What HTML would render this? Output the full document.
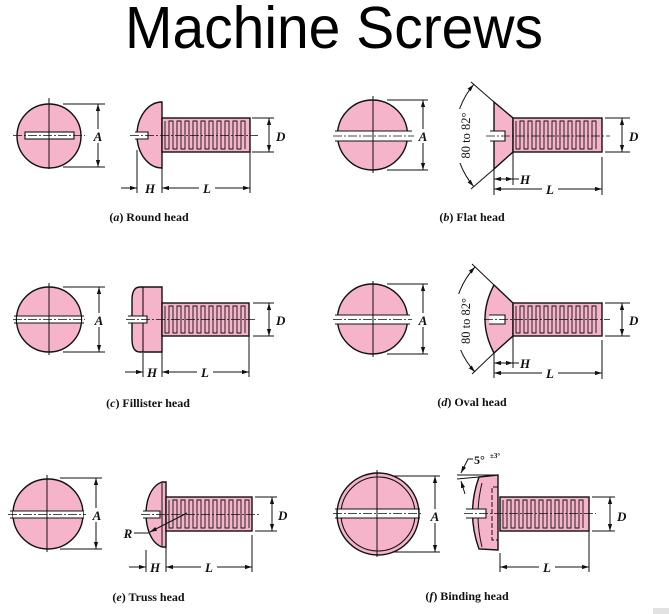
<!DOCTYPE html>
<html><head><meta charset="utf-8"><style>
html,body{margin:0;padding:0;background:#fff;}
svg{display:block;}
.o{stroke:#111;stroke-width:1.4;}
.p{fill:#f6b4ca;}
.l{stroke:#111;stroke-width:1;fill:none;}
.m{stroke:#111;stroke-width:0.9;fill:none;}
.c{stroke:#111;stroke-width:0.8;fill:none;stroke-dasharray:9,2,2,2;}
.lb{font-family:"Liberation Serif",serif;font-weight:bold;font-style:italic;font-size:13px;fill:#111;}
.cap{font-family:"Liberation Serif",serif;font-weight:bold;font-size:12px;fill:#111;}
.ang{font-family:"Liberation Serif",serif;font-size:12.5px;fill:#111;}
</style></head><body>
<svg width="669" height="614" viewBox="0 0 669 614" xmlns="http://www.w3.org/2000/svg">
<defs>
<marker id="ar" viewBox="0 0 7 5" refX="7" refY="2.5" markerWidth="7" markerHeight="5" orient="auto-start-reverse" markerUnits="userSpaceOnUse"><path d="M0,0.4 L7,2.5 L0,4.6 z" fill="#111"/></marker>
</defs>
<rect width="669" height="614" fill="#fff"/>
<text x="125" y="48" font-family="Liberation Sans, sans-serif" font-size="59" fill="#000" textLength="418" lengthAdjust="spacingAndGlyphs">Machine Screws</text>

<!-- ===== (a) Round head ===== -->
<circle cx="49" cy="136" r="32" class="p o"/>
<rect x="25" y="132" width="49" height="7" fill="#fff" class="o" style="stroke-width:1.1"/>
<line x1="13" y1="135.5" x2="85" y2="135.5" class="c"/>
<line x1="49" y1="98" x2="49" y2="169" class="l"/>
<line x1="63" y1="104" x2="105" y2="104" class="l"/>
<line x1="63" y1="167" x2="105" y2="167" class="l"/>
<line x1="98" y1="104" x2="98" y2="167" class="l" marker-start="url(#ar)" marker-end="url(#ar)"/>
<rect x="92" y="129" width="12" height="14" fill="#fff"/>
<text x="98" y="141" text-anchor="middle" class="lb">A</text>
<path d="M162,102 A25,33 0 0 0 162,168 Z" class="p o"/>
<path d="M135,132 H148 V139 H135" fill="#fff" class="o" style="stroke-width:1.1"/>
<rect x="162" y="118" width="88" height="34" class="p o"/>
<path d="M165,121 v28h4v-28h4 v28h4v-28h4 v28h4v-28h4 v28h4v-28h4 v28h4v-28h4 v28h4v-28h4 v28h4v-28h4 v28h4v-28h4 v28h4v-28h4 v28h4v-28h4 v28" class="m"/>
<line x1="130" y1="135.5" x2="258" y2="135.5" class="c"/>
<line x1="252" y1="118" x2="274" y2="118" class="l"/>
<line x1="252" y1="152" x2="274" y2="152" class="l"/>
<line x1="269" y1="118" x2="269" y2="152" class="l" marker-start="url(#ar)" marker-end="url(#ar)"/>
<text x="276" y="141" class="lb">D</text>
<line x1="137" y1="150" x2="137" y2="193" class="l"/>
<line x1="162" y1="168" x2="162" y2="193" class="l"/>
<line x1="250" y1="152" x2="250" y2="193" class="l"/>
<line x1="121" y1="188" x2="137" y2="188" class="l" marker-end="url(#ar)"/>
<text x="150" y="193" text-anchor="middle" class="lb">H</text>
<line x1="162" y1="188" x2="250" y2="188" class="l" marker-start="url(#ar)" marker-end="url(#ar)"/>
<rect x="199" y="181" width="16" height="14" fill="#fff"/>
<text x="207" y="193" text-anchor="middle" class="lb">L</text>
<text x="149" y="221" text-anchor="middle" class="cap">(<tspan font-style="italic">a</tspan>) Round head</text>

<!-- ===== (b) Flat head ===== -->
<circle cx="372.5" cy="135" r="35" class="p o"/>
<rect x="336" y="131" width="73" height="10" fill="#fff"/>
<line x1="335" y1="131" x2="412" y2="131" class="o" style="stroke-width:1.1"/>
<line x1="335" y1="141" x2="412" y2="141" class="o" style="stroke-width:1.1"/>
<line x1="333" y1="136" x2="414" y2="136" class="c"/>
<line x1="373" y1="96" x2="373" y2="173" class="l"/>
<line x1="387" y1="100" x2="428" y2="100" class="l"/>
<line x1="387" y1="170" x2="428" y2="170" class="l"/>
<line x1="423" y1="100" x2="423" y2="170" class="l" marker-start="url(#ar)" marker-end="url(#ar)"/>
<rect x="417" y="129" width="12" height="14" fill="#fff"/>
<text x="423" y="141" text-anchor="middle" class="lb">A</text>
<polygon points="494,102 513,118 513,152 494,169" class="p o"/>
<path d="M490,131 H505 V141 H490" fill="#fff" class="o" style="stroke-width:1.1"/>
<rect x="513" y="118" width="89" height="34" class="p o"/>
<path d="M516,121 v28h4v-28h4 v28h4v-28h4 v28h4v-28h4 v28h4v-28h4 v28h4v-28h4 v28h4v-28h4 v28h4v-28h4 v28h4v-28h4 v28h4v-28h4 v28h4v-28h4 v28" class="m"/>
<line x1="486" y1="136" x2="610" y2="136" class="c"/>
<line x1="605" y1="118" x2="630" y2="118" class="l"/>
<line x1="605" y1="152" x2="630" y2="152" class="l"/>
<line x1="622" y1="118" x2="622" y2="152" class="l" marker-start="url(#ar)" marker-end="url(#ar)"/>
<text x="629" y="141" class="lb">D</text>
<line x1="494" y1="102" x2="471" y2="82" class="l"/>
<line x1="494" y1="169" x2="471" y2="189" class="l"/>
<path d="M473.6,84.6 A79,79 0 0 0 473.6,186.4" class="l" marker-start="url(#ar)" marker-end="url(#ar)"/>
<rect x="451" y="109" width="22" height="54" fill="#fff"/>
<text transform="translate(470,135.5) rotate(-90)" text-anchor="middle" class="ang">80 to 82°</text>
<line x1="494" y1="169" x2="494" y2="195" class="l"/>
<line x1="513" y1="152" x2="513" y2="185" class="l"/>
<line x1="602" y1="157" x2="602" y2="195" class="l"/>
<line x1="494" y1="179" x2="513" y2="179" class="l" marker-start="url(#ar)" marker-end="url(#ar)"/>
<line x1="513" y1="179" x2="519" y2="179" class="l"/>
<text x="520" y="184" class="lb">H</text>
<line x1="494" y1="189" x2="602" y2="189" class="l" marker-start="url(#ar)" marker-end="url(#ar)"/>
<rect x="542" y="182" width="16" height="14" fill="#fff"/>
<text x="550" y="194" text-anchor="middle" class="lb">L</text>
<text x="472" y="221" text-anchor="middle" class="cap">(<tspan font-style="italic">b</tspan>) Flat head</text>

<!-- ===== (c) Fillister head ===== -->
<circle cx="49" cy="319.5" r="32.5" class="p o"/>
<rect x="17" y="316" width="64" height="7" fill="#fff"/>
<line x1="14" y1="316" x2="84" y2="316" class="o" style="stroke-width:1.1"/>
<line x1="14" y1="323" x2="84" y2="323" class="o" style="stroke-width:1.1"/>
<line x1="13" y1="319.5" x2="85" y2="319.5" class="c"/>
<line x1="49" y1="283" x2="49" y2="355" class="l"/>
<line x1="63" y1="287" x2="105" y2="287" class="l"/>
<line x1="63" y1="352" x2="105" y2="352" class="l"/>
<line x1="99" y1="287" x2="99" y2="352" class="l" marker-start="url(#ar)" marker-end="url(#ar)"/>
<rect x="93" y="313" width="12" height="14" fill="#fff"/>
<text x="99" y="325" text-anchor="middle" class="lb">A</text>
<path d="M162,287 H140 Q132,287 132,300 V339 Q132,352 140,352 H162 Z" class="p o"/>
<line x1="143" y1="287" x2="143" y2="352" class="o" style="stroke-width:1.1"/>
<path d="M128,316 H147 V323 H128" fill="#fff" class="o" style="stroke-width:1.1"/>
<rect x="162" y="303" width="87" height="33" class="p o"/>
<path d="M165,306 v27h4v-27h4 v27h4v-27h4 v27h4v-27h4 v27h4v-27h4 v27h4v-27h4 v27h4v-27h4 v27h4v-27h4 v27h4v-27h4 v27h4v-27h4 v27h4v-27h4 v27" class="m"/>
<line x1="126" y1="319.5" x2="257" y2="319.5" class="c"/>
<line x1="253" y1="303" x2="274" y2="303" class="l"/>
<line x1="253" y1="336" x2="274" y2="336" class="l"/>
<line x1="269" y1="303" x2="269" y2="336" class="l" marker-start="url(#ar)" marker-end="url(#ar)"/>
<text x="276" y="325" class="lb">D</text>
<line x1="143" y1="353" x2="143" y2="377" class="l"/>
<line x1="162" y1="352" x2="162" y2="377" class="l"/>
<line x1="249" y1="336" x2="249" y2="377" class="l"/>
<line x1="125" y1="372" x2="143" y2="372" class="l" marker-end="url(#ar)"/>
<text x="152" y="377" text-anchor="middle" class="lb">H</text>
<line x1="162" y1="372" x2="249" y2="372" class="l" marker-start="url(#ar)" marker-end="url(#ar)"/>
<rect x="197" y="365" width="16" height="14" fill="#fff"/>
<text x="205" y="377" text-anchor="middle" class="lb">L</text>
<text x="148" y="407" text-anchor="middle" class="cap">(<tspan font-style="italic">c</tspan>) Fillister head</text>

<!-- ===== (d) Oval head ===== -->
<circle cx="372.5" cy="319" r="35" class="p o"/>
<rect x="336" y="315" width="73" height="9" fill="#fff"/>
<line x1="335" y1="315" x2="410" y2="315" class="o" style="stroke-width:1.1"/>
<line x1="335" y1="324" x2="410" y2="324" class="o" style="stroke-width:1.1"/>
<line x1="333" y1="319.5" x2="412" y2="319.5" class="c"/>
<line x1="373" y1="281" x2="373" y2="357" class="l"/>
<line x1="387" y1="284" x2="428" y2="284" class="l"/>
<line x1="387" y1="354" x2="428" y2="354" class="l"/>
<line x1="423" y1="284" x2="423" y2="354" class="l" marker-start="url(#ar)" marker-end="url(#ar)"/>
<rect x="417" y="313" width="12" height="14" fill="#fff"/>
<text x="423" y="325" text-anchor="middle" class="lb">A</text>
<path d="M494,285 Q476,319 494,353 L513,336 V303 Z" class="p o"/>
<path d="M489,315 H505 V324 H489" fill="#fff" class="o" style="stroke-width:1.1"/>
<rect x="513" y="303" width="89" height="33" class="p o"/>
<path d="M516,306 v27h4v-27h4 v27h4v-27h4 v27h4v-27h4 v27h4v-27h4 v27h4v-27h4 v27h4v-27h4 v27h4v-27h4 v27h4v-27h4 v27h4v-27h4 v27h4v-27h4 v27" class="m"/>
<line x1="484" y1="319.5" x2="610" y2="319.5" class="c"/>
<line x1="605" y1="303" x2="630" y2="303" class="l"/>
<line x1="605" y1="336" x2="630" y2="336" class="l"/>
<line x1="622" y1="303" x2="622" y2="336" class="l" marker-start="url(#ar)" marker-end="url(#ar)"/>
<text x="629" y="325" class="lb">D</text>
<line x1="494" y1="285" x2="472" y2="264" class="l"/>
<line x1="494" y1="353" x2="472" y2="374" class="l"/>
<path d="M475,267 A77,77 0 0 0 475,372" class="l" marker-start="url(#ar)" marker-end="url(#ar)"/>
<rect x="451" y="294" width="22" height="56" fill="#fff"/>
<text transform="translate(470,321) rotate(-90)" text-anchor="middle" class="ang">80 to 82°</text>
<line x1="494" y1="353" x2="494" y2="378" class="l"/>
<line x1="513" y1="336" x2="513" y2="368" class="l"/>
<line x1="602" y1="340" x2="602" y2="379" class="l"/>
<line x1="494" y1="363" x2="513" y2="363" class="l" marker-start="url(#ar)" marker-end="url(#ar)"/>
<line x1="513" y1="363" x2="519" y2="363" class="l"/>
<text x="520" y="368" class="lb">H</text>
<line x1="494" y1="373" x2="602" y2="373" class="l" marker-start="url(#ar)" marker-end="url(#ar)"/>
<rect x="542" y="366" width="16" height="14" fill="#fff"/>
<text x="550" y="378" text-anchor="middle" class="lb">L</text>
<text x="472" y="406" text-anchor="middle" class="cap">(<tspan font-style="italic">d</tspan>) Oval head</text>

<!-- ===== (e) Truss head ===== -->
<circle cx="48" cy="514" r="35" class="p o"/>
<rect x="13" y="511" width="70" height="7" fill="#fff"/>
<line x1="10" y1="511" x2="84" y2="511" class="o" style="stroke-width:1.1"/>
<line x1="10" y1="518" x2="84" y2="518" class="o" style="stroke-width:1.1"/>
<line x1="8" y1="514.5" x2="86" y2="514.5" class="c"/>
<line x1="47" y1="475" x2="47" y2="552" class="l"/>
<line x1="60" y1="478" x2="102" y2="478" class="l"/>
<line x1="60" y1="549" x2="102" y2="549" class="l"/>
<line x1="96" y1="478" x2="96" y2="549" class="l" marker-start="url(#ar)" marker-end="url(#ar)"/>
<rect x="90" y="508" width="13" height="14" fill="#fff"/>
<text x="97" y="520" text-anchor="middle" class="lb">A</text>
<path d="M166,482 H162 C151,486 146,500 146,514 C146,528 151,543 162,547 H166 Z" class="p o"/>
<line x1="162" y1="483" x2="162" y2="546" class="l"/>
<path d="M143,511 H160 V518 H143" fill="#fff" class="o" style="stroke-width:1.1"/>
<rect x="166" y="497" width="86" height="34" class="p o"/>
<path d="M169,500 v28h4v-28h4 v28h4v-28h4 v28h4v-28h4 v28h4v-28h4 v28h4v-28h4 v28h4v-28h4 v28h4v-28h4 v28h4v-28h4 v28h4v-28h4 v28h4v-28h4 v28" class="m"/>
<line x1="141" y1="514.5" x2="259" y2="514.5" class="c"/>
<line x1="255" y1="497" x2="277" y2="497" class="l"/>
<line x1="255" y1="531" x2="277" y2="531" class="l"/>
<line x1="272" y1="497" x2="272" y2="531" class="l" marker-start="url(#ar)" marker-end="url(#ar)"/>
<text x="278" y="520" class="lb">D</text>
<text x="128" y="538" text-anchor="middle" class="lb">R</text>
<line x1="134" y1="533" x2="149" y2="533" class="l"/>
<line x1="187" y1="513" x2="150" y2="532" class="l" marker-end="url(#ar)"/>
<line x1="146" y1="550" x2="146" y2="572" class="l"/>
<line x1="166" y1="547" x2="166" y2="572" class="l"/>
<line x1="252" y1="535" x2="252" y2="572" class="l"/>
<line x1="129" y1="567" x2="146" y2="567" class="l" marker-end="url(#ar)"/>
<text x="155" y="572" text-anchor="middle" class="lb">H</text>
<line x1="166" y1="567" x2="252" y2="567" class="l" marker-start="url(#ar)" marker-end="url(#ar)"/>
<rect x="201" y="560" width="16" height="14" fill="#fff"/>
<text x="209" y="572" text-anchor="middle" class="lb">L</text>
<text x="148.5" y="601" text-anchor="middle" class="cap">(<tspan font-style="italic">e</tspan>) Truss head</text>

<!-- ===== (f) Binding head ===== -->
<circle cx="378" cy="514" r="41" class="p o"/>
<circle cx="378" cy="514" r="37" class="p o" style="stroke-width:1.1"/>
<rect x="338" y="509" width="80" height="9" fill="#fff"/>
<line x1="335" y1="509" x2="420" y2="509" class="o" style="stroke-width:1.1"/>
<line x1="335" y1="518" x2="420" y2="518" class="o" style="stroke-width:1.1"/>
<line x1="333" y1="513.5" x2="422" y2="513.5" class="c"/>
<line x1="377" y1="470" x2="377" y2="557" class="l"/>
<line x1="392" y1="476" x2="440" y2="476" class="l"/>
<line x1="392" y1="552" x2="440" y2="552" class="l"/>
<line x1="435" y1="476" x2="435" y2="552" class="l" marker-start="url(#ar)" marker-end="url(#ar)"/>
<rect x="429" y="509" width="12" height="14" fill="#fff"/>
<text x="435" y="521" text-anchor="middle" class="lb">A</text>
<path d="M479,477 L498,475 V550 L479,549 Q466,513 479,477 Z" class="p o"/>
<path d="M482,483 Q474,515 482,547" class="l"/>
<path d="M498,487 H492 V540 H498" class="l" style="stroke-dasharray:5,2"/>
<path d="M466,509 H486 V518 H466" fill="#fff" class="o" style="stroke-width:1.1"/>
<rect x="500" y="497" width="89" height="34" class="p o"/>
<path d="M503,500 v28h4v-28h4 v28h4v-28h4 v28h4v-28h4 v28h4v-28h4 v28h4v-28h4 v28h4v-28h4 v28h4v-28h4 v28h4v-28h4 v28h4v-28h4 v28h4v-28h4 v28" class="m"/>
<line x1="464" y1="513.5" x2="596" y2="513.5" class="c"/>
<line x1="592" y1="497" x2="615" y2="497" class="l"/>
<line x1="592" y1="531" x2="615" y2="531" class="l"/>
<line x1="610" y1="497" x2="610" y2="531" class="l" marker-start="url(#ar)" marker-end="url(#ar)"/>
<text x="617" y="521" class="lb">D</text>
<line x1="500" y1="553" x2="500" y2="572" class="l"/>
<line x1="589" y1="531" x2="589" y2="572" class="l"/>
<line x1="500" y1="567" x2="589" y2="567" class="l" marker-start="url(#ar)" marker-end="url(#ar)"/>
<rect x="539" y="560" width="16" height="14" fill="#fff"/>
<text x="547" y="572" text-anchor="middle" class="lb">L</text>
<line x1="457" y1="475" x2="498" y2="475" class="l"/>
<line x1="457" y1="479" x2="479" y2="477" class="l"/>
<path d="M473,459 H468 L461,473" class="l" marker-end="url(#ar)"/>
<line x1="465" y1="494" x2="461" y2="481" class="l" marker-end="url(#ar)"/>
<text x="474" y="464" class="cap" style="font-size:12px">5°</text>
<text x="490" y="458" font-family="Liberation Serif, serif" font-weight="bold" font-size="7" fill="#111">±3°</text>
<text x="467" y="600" text-anchor="middle" class="cap">(<tspan font-style="italic">f</tspan>) Binding head</text>

<rect x="653" y="608" width="16" height="6" fill="#e2e2e2"/>
</svg>
</body></html>
